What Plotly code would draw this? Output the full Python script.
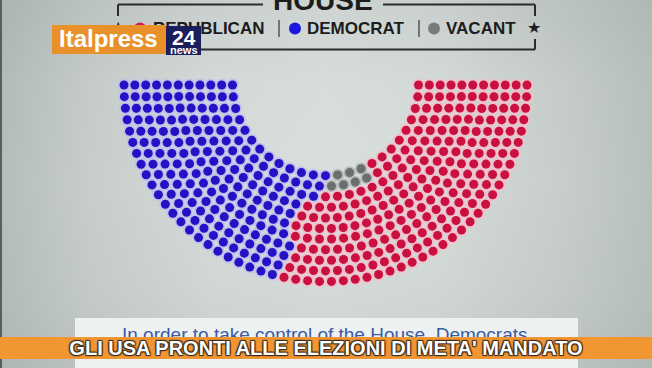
import numpy as np
import plotly.graph_objects as go

W, H = 652, 368

# ---------------- data ----------------
parties = ["Democrat", "Vacant", "Republican"]
seats_per_row = [25, 28, 31, 34, 37, 40, 42, 45, 48, 51, 54]      # inner -> outer
dem_per_row = [13, 14, 15, 15, 16, 17, 18, 20, 21, 22, 23]
vacant_per_row = [3, 4, 0, 0, 0, 0, 0, 0, 0, 0, 0]
rep_per_row = [n - d - v for n, d, v in zip(seats_per_row, dem_per_row, vacant_per_row)]

legend_labels = ["REPUBLICAN", "DEMOCRAT", "VACANT"]
title_text = "HOUSE"
caption_text = "In order to take control of the House, Democrats"
banner_text = "GLI USA PRONTI ALLE ELEZIONI DI META' MANDATO"
logo_word = "Italpress"
logo_num = "24"
logo_sub = "news"

# ---------------- styles ----------------
core_col = {"Democrat": "#2412c4", "Vacant": "#6c6e6e", "Republican": "#c9103e"}
halo_col = {"Democrat": "#c2beee", "Vacant": "#b9bebd", "Republican": "#f1c0cd"}
legend_dot = {"REPUBLICAN": "#d41a44", "DEMOCRAT": "#1c16e0", "VACANT": "#7a7a7a"}

INNER_R, OUTER_R = 0.4615, 1.0

# ---------------- seat layout ----------------
xs = {p: [] for p in parties}
ys = {p: [] for p in parties}
n_rows = len(seats_per_row)
for i, n in enumerate(seats_per_row):
    r = INNER_R + (OUTER_R - INNER_R) * i / (n_rows - 1)
    counts = [dem_per_row[i], vacant_per_row[i], rep_per_row[i]]
    labels = []
    for p, c in zip(parties, counts):
        labels += [p] * c
    for k in range(n):
        th = np.pi * k / (n - 1)
        xs[labels[k]].append(-r * np.cos(th))
        ys[labels[k]].append(-r * np.sin(th))


def px(x):
    return x / W


def py(y):
    return 1 - y / H


fig = go.Figure()

# background gradient (TV studio backdrop)
bg_z = [
    [0.22, 0.50, 0.70, 0.78, 0.70, 0.50, 0.30],
    [0.32, 0.68, 0.90, 0.96, 0.90, 0.68, 0.40],
    [0.36, 0.72, 0.94, 1.00, 0.94, 0.72, 0.42],
    [0.34, 0.66, 0.86, 0.92, 0.86, 0.66, 0.40],
    [0.26, 0.52, 0.68, 0.74, 0.68, 0.52, 0.32],
]
fig.add_trace(go.Heatmap(
    z=bg_z, x=[-30, 90, 210, 326, 442, 562, 682], y=[-20, 80, 184, 288, 390],
    zsmooth="best", showscale=False, hoverinfo="skip",
    colorscale=[[0, "#98a19f"], [1, "#d9dfdc"]], zmin=0, zmax=1,
    xaxis="x", yaxis="y"))

for p in parties:
    fig.add_trace(go.Scatter(
        x=xs[p], y=ys[p], mode="markers", xaxis="x2", yaxis="y2",
        marker=dict(size=12.5, color=halo_col[p], line=dict(width=0)),
        hoverinfo="skip"))
for p in parties:
    fig.add_trace(go.Scatter(
        x=xs[p], y=ys[p], mode="markers", xaxis="x2", yaxis="y2",
        marker=dict(size=9, color=core_col[p], line=dict(width=0)),
        name=p, hoverinfo="skip"))

shapes = []
line_col = "#2b2b2b"
# frame of the legend box
for (x0, y0, x1, y1) in [(118, 4.5, 263, 4.5), (383, 4.5, 535, 4.5),
                         (118, 4.5, 118, 16), (535, 4.5, 535, 16),
                         (118, 49.5, 535, 49.5), (535, 39, 535, 49.5)]:
    shapes.append(dict(type="line", xref="paper", yref="paper",
                       x0=px(x0), y0=py(y0), x1=px(x1), y1=py(y1),
                       line=dict(color=line_col, width=2), layer="above"))
# separators
for sx in [279, 419]:
    shapes.append(dict(type="line", xref="paper", yref="paper",
                       x0=px(sx), y0=py(20), x1=px(sx), y1=py(37),
                       line=dict(color="#555555", width=1.5), layer="above"))
# legend dots
for (cx, lab) in [(140, "REPUBLICAN"), (295, "DEMOCRAT"), (434, "VACANT")]:
    shapes.append(dict(type="circle", xref="paper", yref="paper",
                       x0=px(cx - 6), x1=px(cx + 6), y0=py(28.5 - 6), y1=py(28.5 + 6),
                       fillcolor=legend_dot[lab], line=dict(width=0), layer="above"))
# white caption box and left frame edge
shapes.append(dict(type="rect", xref="paper", yref="paper",
                   x0=px(75), x1=px(578), y0=py(318), y1=py(368),
                   fillcolor="#eef1f1", line=dict(width=0), layer="above"))
shapes.append(dict(type="rect", xref="paper", yref="paper",
                   x0=px(0), x1=px(2), y0=py(0), y1=py(368),
                   fillcolor="#5a5f5e", line=dict(width=0), layer="above"))

ann = []
# title
ann.append(dict(text=f"<b>{title_text}</b>", x=px(323), y=py(1), xanchor="center",
                yanchor="middle", showarrow=False, xref="paper", yref="paper",
                font=dict(family="Liberation Sans", size=28, color="#1c1c1c")))
# legend texts
for (lx, lab) in [(152, "REPUBLICAN"), (306, "DEMOCRAT"), (445, "VACANT")]:
    ann.append(dict(text=f"<b>{lab}</b>", x=px(lx), y=py(28.5), xanchor="left",
                    yanchor="middle", showarrow=False, xref="paper", yref="paper",
                    borderpad=0, font=dict(family="Liberation Sans", size=17, color="#1c1c1c")))
for sx in [118, 534]:
    ann.append(dict(text="★", x=px(sx), y=py(27), xanchor="center", yanchor="middle",
                    showarrow=False, xref="paper", yref="paper", borderpad=0,
                    font=dict(family="DejaVu Sans", size=16, color="#1c1c1c")))
# logo boxes
ann.append(dict(text=" ", x=px(51.5), y=py(25), xanchor="left", yanchor="top",
                width=114.5, height=29, bgcolor="#e8902a", borderpad=0, borderwidth=0,
                showarrow=False, xref="paper", yref="paper", font=dict(size=10)))
ann.append(dict(text=" ", x=px(166), y=py(25.5), xanchor="left", yanchor="top",
                width=34.5, height=28.5, bgcolor="#1c1e5c", borderpad=0, borderwidth=0,
                showarrow=False, xref="paper", yref="paper", font=dict(size=10)))
ann.append(dict(text=f"<b>{logo_word}</b>", x=px(108.5), y=py(38.5), xanchor="center",
                yanchor="middle", showarrow=False, xref="paper", yref="paper", borderpad=0,
                font=dict(family="Liberation Sans", size=24, color="#ffffff")))
ann.append(dict(text=f"<b>{logo_num}</b>", x=px(184), y=py(37.5), xanchor="center",
                yanchor="middle", showarrow=False, xref="paper", yref="paper", borderpad=0,
                font=dict(family="Liberation Sans", size=21, color="#ffffff")))
ann.append(dict(text=f"<b>{logo_sub}</b>", x=px(184.5), y=py(49.5), xanchor="center",
                yanchor="middle", showarrow=False, xref="paper", yref="paper", borderpad=0,
                font=dict(family="Liberation Sans", size=11, color="#ffffff")))
# caption
ann.append(dict(text=caption_text, x=px(121), y=py(334), xanchor="left", yanchor="middle",
                showarrow=False, xref="paper", yref="paper", borderpad=0,
                font=dict(family="Liberation Sans", size=19, color="#3a5aa6")))
# banner
ann.append(dict(text=f"<b>{banner_text}</b>", x=0, y=py(337), xanchor="left", yanchor="top",
                width=W, height=22, bgcolor="#f29634", borderpad=0, borderwidth=0,
                showarrow=False, xref="paper", yref="paper",
                font=dict(family="Liberation Sans", size=20, color="#ffffff",
                          shadow="1px 1px 1px #3a2a1a, -1px 1px 1px #3a2a1a, 1px -1px 1px #3a2a1a, -1px -1px 1px #3a2a1a")))

cx_px, cy_px, r_px, vfac = 325.5, 85.0, 201.5, 0.975
fig.update_layout(
    width=W, height=H, margin=dict(l=0, r=0, t=0, b=0),
    paper_bgcolor="#c9d0cd", plot_bgcolor="rgba(0,0,0,0)",
    showlegend=False, hovermode=False,
    xaxis=dict(range=[0, W], visible=False, domain=[0, 1], fixedrange=True),
    yaxis=dict(range=[H, 0], visible=False, domain=[0, 1], fixedrange=True),
    xaxis2=dict(range=[-cx_px / r_px, (W - cx_px) / r_px], visible=False,
                domain=[0, 1], anchor="y2", fixedrange=True),
    yaxis2=dict(range=[-(H - cy_px) / (r_px * vfac), cy_px / (r_px * vfac)], visible=False,
                domain=[0, 1], anchor="x2", fixedrange=True),
    shapes=shapes, annotations=ann,
)

fig.write_html("out.html")
